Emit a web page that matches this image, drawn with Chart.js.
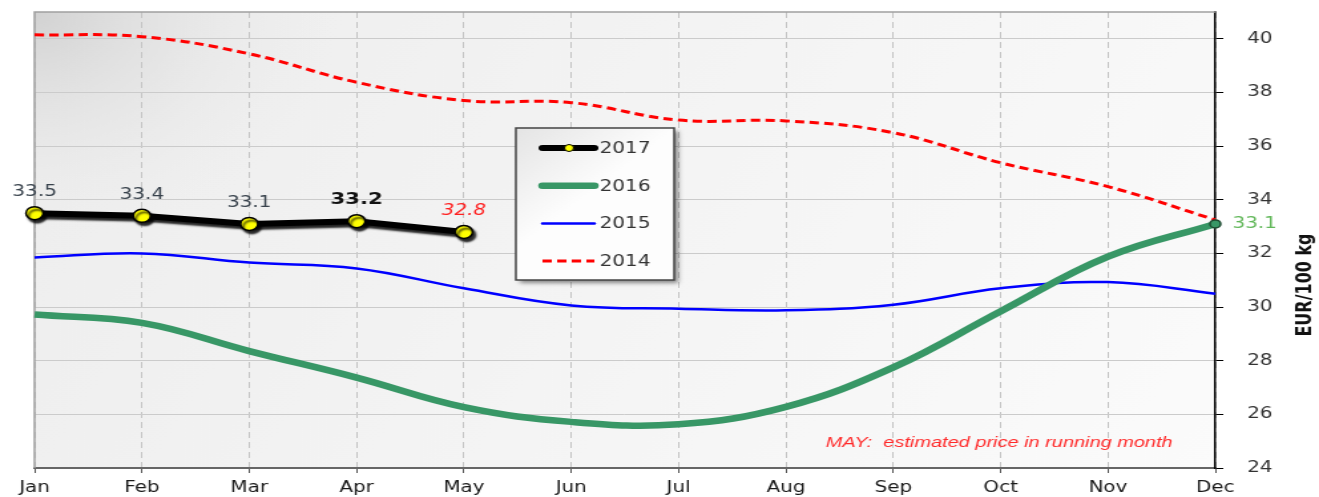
<!DOCTYPE html>
<html>
<head>
<meta charset="utf-8">
<script src="https://cdn.jsdelivr.net/npm/chart.js@4/dist/chart.umd.min.js"></script>
<style>
  html, body { margin: 0; padding: 0; background: #fff; overflow: hidden; }
</style>
</head>
<body>
<!-- drawn narrower and stretched wide, like the source picture -->
<canvas id="chart" width="992" height="497" style="display:block;width:1319px;height:497px"></canvas>
<script>
// Monthly prices, EUR/100 kg
const months = ['Jan', 'Feb', 'Mar', 'Apr', 'May', 'Jun', 'Jul', 'Aug', 'Sep', 'Oct', 'Nov', 'Dec'];
const y2017 = [33.5, 33.4, 33.1, 33.2, 32.8];
const y2016 = [29.72, 29.41, 28.36, 27.37, 26.27, 25.72, 25.63, 26.28, 27.75, 29.84, 31.88, 33.1];
const y2015 = [31.85, 32.0, 31.66, 31.44, 30.7, 30.06, 29.94, 29.88, 30.09, 30.7, 30.93, 30.5];
const y2014 = [40.15, 40.08, 39.44, 38.38, 37.7, 37.62, 36.97, 36.94, 36.5, 35.38, 34.49, 33.25];
const yTicks = [24, 26, 28, 30, 32, 34, 36, 38, 40];
const axisTitle = 'EUR/100 kg';
const noteText = 'MAY:  estimated price in running month';

const FONT = '"DejaVu Sans", Verdana, sans-serif';

(function () {
  const overlay = {
    id: 'overlay',
    beforeDraw(chart) {
      const { ctx, chartArea: a, width, height } = chart;
      ctx.save();
      ctx.fillStyle = '#fff';
      ctx.fillRect(0, 0, width, height);
      const g = ctx.createLinearGradient(a.left, a.top, a.right, a.bottom);
      g.addColorStop(0, '#ededed');
      g.addColorStop(1, '#fbfbfb');
      ctx.fillStyle = g;
      ctx.fillRect(a.left, a.top, a.width, a.height);
      const r = ctx.createRadialGradient(a.left, a.top, 0, a.left, a.top, 230);
      r.addColorStop(0, 'rgba(205,205,205,0.85)');
      r.addColorStop(1, 'rgba(236,236,236,0)');
      ctx.fillStyle = r;
      ctx.fillRect(a.left, a.top, a.width, a.height);
      ctx.restore();
    },
    beforeDatasetsDraw(chart) {
      const { ctx, chartArea: a } = chart;
      ctx.save();
      ctx.strokeStyle = '#a0a0a0';
      ctx.lineWidth = 1.5;
      ctx.beginPath();
      ctx.moveTo(a.left, a.bottom);
      ctx.lineTo(a.left, a.top);
      ctx.lineTo(a.right, a.top);
      ctx.stroke();
      ctx.restore();
    },
    beforeDatasetDraw(chart, args) {
      if (args.index !== 0) return;
      const ctx = chart.ctx;
      ctx.save();
      ctx.shadowColor = 'rgba(0,0,0,0.85)';
      ctx.shadowOffsetX = 2;
      ctx.shadowOffsetY = 3;
      ctx.shadowBlur = 2;
    },
    afterDatasetDraw(chart, args) {
      if (args.index !== 0) return;
      chart.ctx.restore();
    },
    afterDatasetsDraw(chart) {
      const ctx = chart.ctx;
      ctx.save();
      ctx.textAlign = 'center';
      ctx.textBaseline = 'middle';

      // value labels over the 2017 points
      const pts = chart.getDatasetMeta(0).data;
      pts.forEach((pt, i) => {
        const last = i === y2017.length - 1;
        const bold = i === 3;
        ctx.font = last ? 'italic 15px ' + FONT : bold ? 'bold 16px ' + FONT : '15px ' + FONT;
        ctx.fillStyle = last ? '#ff2020' : bold ? '#111' : '#38424c';
        ctx.fillText(y2017[i].toFixed(1), pt.x, pt.y - 21);
      });

      // end value of 2016
      const g16 = chart.getDatasetMeta(1).data;
      const end = g16[g16.length - 1];
      ctx.textAlign = 'left';
      ctx.font = '15px ' + FONT;
      ctx.fillStyle = '#62b85a';
      ctx.fillText(y2016[y2016.length - 1].toFixed(1), end.x + 13, end.y);

      // note
      ctx.font = 'italic 15px "Liberation Sans", Arial, sans-serif';
      ctx.fillStyle = '#ff2a2a';
      ctx.fillText(noteText, 621, 443);

      // axis title
      ctx.save();
      ctx.translate(982, 285);
      ctx.rotate(-Math.PI / 2);
      ctx.textAlign = 'center';
      ctx.font = 'bold 16px ' + FONT;
      ctx.fillStyle = '#111';
      ctx.fillText(axisTitle, 0, 0);
      ctx.restore();

      // legend box
      const lx = 388, ly = 128, lw = 119, lh = 152;
      ctx.save();
      ctx.shadowColor = 'rgba(0,0,0,0.45)';
      ctx.shadowOffsetX = 3;
      ctx.shadowOffsetY = 3;
      ctx.shadowBlur = 4;
      const lg = ctx.createLinearGradient(lx, ly, lx + 60, ly + 60);
      lg.addColorStop(0, '#e4e4e4');
      lg.addColorStop(1, '#fdfdfd');
      ctx.fillStyle = lg;
      ctx.fillRect(lx, ly, lw, lh);
      ctx.restore();
      ctx.strokeStyle = '#444';
      ctx.lineWidth = 1.5;
      ctx.strokeRect(lx, ly, lw, lh);

      chart.data.datasets.forEach((ds, i) => {
        const y = 148 + i * 37.7;
        ctx.save();
        ctx.lineCap = ds.borderDash ? 'butt' : 'round';
        ctx.strokeStyle = ds.borderColor;
        ctx.lineWidth = ds.borderWidth;
        ctx.setLineDash(ds.borderDash || []);
        ctx.beginPath();
        ctx.moveTo(408, y);
        ctx.lineTo(447, y);
        ctx.stroke();
        if (i === 0) {
          ctx.beginPath();
          ctx.arc(428, y, 3.5, 0, Math.PI * 2);
          ctx.fillStyle = '#ffff00';
          ctx.fill();
          ctx.lineWidth = 1;
          ctx.strokeStyle = '#000';
          ctx.stroke();
        }
        ctx.restore();
        ctx.font = '15px ' + FONT;
        ctx.fillStyle = '#333';
        ctx.textAlign = 'left';
        ctx.fillText(ds.label, 451, y + 1);
      });
      ctx.restore();
    }
  };

  const ctx = document.getElementById('chart');
  new Chart(ctx, {
    type: 'line',
    data: {
      labels: months,
      datasets: [
        {
          label: '2017', data: y2017, borderColor: '#000', borderWidth: 6, tension: 0,
          pointRadius: 6.5, pointBorderWidth: 1.5, pointBackgroundColor: '#ffff00', pointBorderColor: '#000',
          clip: false
        },
        {
          label: '2016', data: y2016, borderColor: '#389766', borderWidth: 6.5, tension: 0.4,
          pointRadius: y2016.map((_, i) => (i === y2016.length - 1 ? 4 : 0)),
          pointBackgroundColor: '#389766', pointBorderColor: '#1d4a30', pointBorderWidth: 1.5,
          clip: false
        },
        {
          label: '2015', data: y2015, borderColor: '#0000ff', borderWidth: 2.5, tension: 0.4,
          pointRadius: 0, clip: false
        },
        {
          label: '2014', data: y2014, borderColor: '#ff0000', borderWidth: 3, borderDash: [7, 4], tension: 0.4,
          pointRadius: 0, clip: false
        }
      ]
    },
    options: {
      responsive: false,
      animation: false,
      devicePixelRatio: 1,
      layout: { padding: { left: 26, top: 12, right: 0, bottom: 0 } },
      plugins: { legend: { display: false }, tooltip: { enabled: false } },
      scales: {
        x: {
          offset: false,
          grid: { color: '#c4c4c4', lineWidth: 1, tickLength: 5, tickColor: '#555' },
          border: { color: '#666', width: 2, dash: [6, 4] },
          ticks: { color: '#1a1a1a', font: { family: FONT, size: 15 }, padding: 6, maxRotation: 0, autoSkip: false },
          afterFit: (s) => { s.height = 29; }
        },
        y: {
          position: 'right',
          min: 24,
          max: 41,
          afterBuildTicks: (s) => { s.ticks = yTicks.map((v) => ({ value: v })); },
          grid: { color: '#cbcbcb', lineWidth: 1, tickLength: 6, tickColor: '#000' },
          border: { color: '#000', width: 1.5 },
          ticks: { color: '#333', font: { family: FONT, size: 15 }, padding: 18 },
          afterFit: (s) => { s.width = 78; s.paddingTop = 0; s.paddingBottom = 0; }
        }
      }
    },
    plugins: [overlay]
  });
})();
</script>
</body>
</html>
